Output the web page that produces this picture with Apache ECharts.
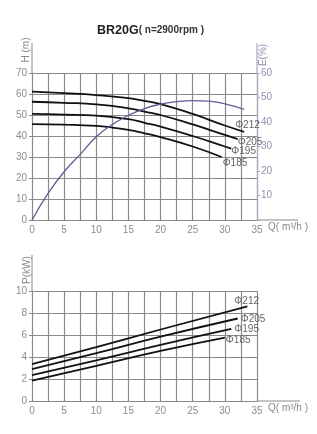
<!DOCTYPE html>
<html>
<head>
<meta charset="utf-8">
<script src="https://cdn.jsdelivr.net/npm/echarts@6/dist/echarts.min.js"></script>
<style>
    html, body { margin: 0; padding: 0; background: #fff; }
    #chart { width: 317px; height: 434px; }
</style>
</head>
<body>
<div id="chart"></div>
<script>
    // impeller names (label text at curve ends)
    var names = ['Φ212', 'Φ205', 'Φ195', 'Φ185'];

    // head curves H(m) vs Q(m³/h)
    var qH212 = [0, 5, 10, 15, 17.5, 20, 25, 30, 33];
    var hH212 = [61.1, 60.4, 59.5, 58, 56.7, 55.2, 50.5, 45, 42];
    var qH205 = [0, 5, 10, 15, 17.5, 20, 25, 30, 32];
    var hH205 = [56.3, 55.8, 55.1, 53.2, 51.6, 50, 45.5, 40.5, 38.5];
    var qH195 = [0, 5, 10, 15, 17.5, 20, 25, 30, 31];
    var hH195 = [50.5, 50.2, 49.7, 48, 46.3, 44.5, 40, 35, 34];
    var qH185 = [0, 5, 10, 12.5, 15, 17.5, 20, 25, 29.5];
    var hH185 = [45.7, 45.4, 44.8, 44, 42.9, 41.3, 39.5, 35, 30];

    // efficiency E(%)
    var qE = [0, 2.5, 5, 7.5, 10, 12.5, 15, 17.5, 20, 22.5, 25, 27.5, 30, 33];
    var eVal = [0, 10.9, 19.7, 26.8, 34, 39, 42.7, 45.5, 47.3, 48.3, 48.7, 48.5, 47.4, 45.2];

    // power P(kW)
    var qP212 = [0, 10, 20, 33.5];
    var pP212 = [3.36, 4.9, 6.5, 8.6];
    var qP205 = [0, 10, 20, 32];
    var pP205 = [2.9, 4.35, 5.85, 7.5];
    var qP195 = [0, 10, 20, 31];
    var pP195 = [2.36, 3.7, 5.1, 6.55];
    var qP185 = [0, 10, 20, 30];
    var pP185 = [1.85, 3.2, 4.55, 5.76];

    // axis ranges / ticks
    var qMax = 35, qStep = 2.5, qLabelStep = 5;
    var hMax = 70, hStep = 10;
    var eMax = 60, eStep = 10;
    var pMax = 10, pStep = 2;

    function pairs(xs, ys) {
        return xs.map(function (x, i) { return [x, ys[i]]; });
    }

    var gridColor = '#8a8a8a';
    var labelColor = '#8c8c8c';
    var font = 'Liberation Sans, Arial, sans-serif';

    // layout
    var G1 = { left: 32, top: 73, width: 225, height: 147 };
    var G2 = { left: 32, top: 291, width: 225, height: 110 };

    var myChart = echarts.init(document.getElementById('chart'));

    function qAxis(idx) {
        return {
            type: 'value', gridIndex: idx, min: 0, max: qMax, interval: qStep,
            axisLine: { lineStyle: { color: gridColor, width: 1 } },
            axisTick: { show: false },
            axisLabel: {
                color: labelColor, fontSize: 10, fontFamily: font, margin: 5,
                formatter: function (v) { return v % qLabelStep === 0 ? v : ''; }
            },
            splitLine: { show: true, lineStyle: { color: gridColor, width: 1.2 } }
        };
    }

    function curve(name, xs, ys, xi, yi, off) {
        return {
            name: name, type: 'line', xAxisIndex: xi, yAxisIndex: yi,
            smooth: true, symbol: 'none',
            lineStyle: { color: '#111', width: 1.8 },
            endLabel: {
                show: true, formatter: name, offset: off, distance: 0,
                color: '#666', fontSize: 10, fontFamily: font
            },
            data: pairs(xs, ys)
        };
    }

    var option = {
        backgroundColor: '#fff',
        animation: false,
        title: {
            text: '{a|BR20G}{b|( n=2900rpm )}',
            left: 92, top: 19,
            textStyle: {
                rich: {
                    a: { fontSize: 12.5, fontWeight: 'bold', color: '#222', fontFamily: font },
                    b: { fontSize: 10, color: '#333', fontFamily: font }
                }
            }
        },
        grid: [G1, G2],
        xAxis: [qAxis(0), qAxis(1)],
        yAxis: [{
            type: 'value', gridIndex: 0, min: 0, max: hMax, interval: hStep,
            axisLine: { show: true, lineStyle: { color: gridColor } },
            axisTick: { show: true, length: 3, lineStyle: { color: gridColor } },
            axisLabel: { color: labelColor, fontSize: 10, fontFamily: font, margin: 5 },
            splitLine: { lineStyle: { color: gridColor, width: 1.2 } }
        }, {
            type: 'value', gridIndex: 0, position: 'right', min: 0, max: eMax, interval: eStep,
            axisLine: { show: true, lineStyle: { color: '#a3a8c4', width: 1.2 } },
            axisTick: { show: true, length: 3, lineStyle: { color: '#a3a8c4' } },
            axisLabel: {
                color: '#8f93ad', fontSize: 10, fontFamily: font, margin: 4,
                formatter: function (v) { return v === 0 ? '' : v; }
            },
            splitLine: { show: false }
        }, {
            type: 'value', gridIndex: 1, min: 0, max: pMax, interval: pStep,
            axisLine: { show: true, lineStyle: { color: gridColor } },
            axisTick: { show: true, length: 3, lineStyle: { color: gridColor } },
            axisLabel: { color: labelColor, fontSize: 10, fontFamily: font, margin: 5 },
            splitLine: { lineStyle: { color: gridColor, width: 1.2 } }
        }],
        series: [
            curve(names[0], qH212, hH212, 0, 0, [-9, -7]),
            curve(names[1], qH205, hH205, 0, 0, [0, 3]),
            curve(names[2], qH195, hH195, 0, 0, [0, 3]),
            curve(names[3], qH185, hH185, 0, 0, [1, 6]),
            {
                name: 'E', type: 'line', xAxisIndex: 0, yAxisIndex: 1,
                smooth: true, symbol: 'none',
                lineStyle: { color: '#5b5f94', width: 1.3 },
                data: pairs(qE, eVal)
            },
            curve(names[0], qP212, pP212, 1, 2, [-13, -5]),
            curve(names[1], qP205, pP205, 1, 2, [3, 1]),
            curve(names[2], qP195, pP195, 1, 2, [3, 0]),
            curve(names[3], qP185, pP185, 1, 2, [1, 3])
        ]
    };

    // axis extensions and axis names
    var ext = { color: gridColor, width: 1 };
    var g1r = G1.left + G1.width, g1b = G1.top + G1.height;
    var g2r = G2.left + G2.width, g2b = G2.top + G2.height;
    function txt(x, y, s, rot, color) {
        return {
            type: 'text', x: x, y: y, rotation: rot,
            style: { text: s, fill: color || '#888', font: '10px ' + font, textAlign: rot ? 'center' : 'left', textVerticalAlign: 'middle' }
        };
    }
    option.graphic = [
        { type: 'line', shape: { x1: G1.left, y1: G1.top - 30, x2: G1.left, y2: G1.top }, style: { stroke: ext.color, lineWidth: 1 } },
        { type: 'line', shape: { x1: g1r, y1: G1.top - 30, x2: g1r, y2: G1.top }, style: { stroke: '#a3a8c4', lineWidth: 1.2 } },
        { type: 'line', shape: { x1: g1r, y1: g1b, x2: g1r + 41, y2: g1b }, style: { stroke: ext.color, lineWidth: 1 } },
        { type: 'line', shape: { x1: G2.left, y1: G2.top - 36, x2: G2.left, y2: G2.top }, style: { stroke: ext.color, lineWidth: 1 } },
        { type: 'line', shape: { x1: g2r, y1: g2b, x2: g2r + 43, y2: g2b }, style: { stroke: ext.color, lineWidth: 1 } },
        txt(26, 50, 'H (m)', Math.PI / 2),
        txt(263, 55, 'E(%)', Math.PI / 2, '#8f93ad'),
        txt(27, 270, 'P(kW)', Math.PI / 2),
        txt(268, g1b + 7, 'Q( m³/h )'),
        txt(268, g2b + 7, 'Q( m³/h )')
    ];

    myChart.setOption(option);
    window.addEventListener('resize', function () {
        if (myChart) {
            myChart.resize();
        }
    });
</script>
</body>
</html>
